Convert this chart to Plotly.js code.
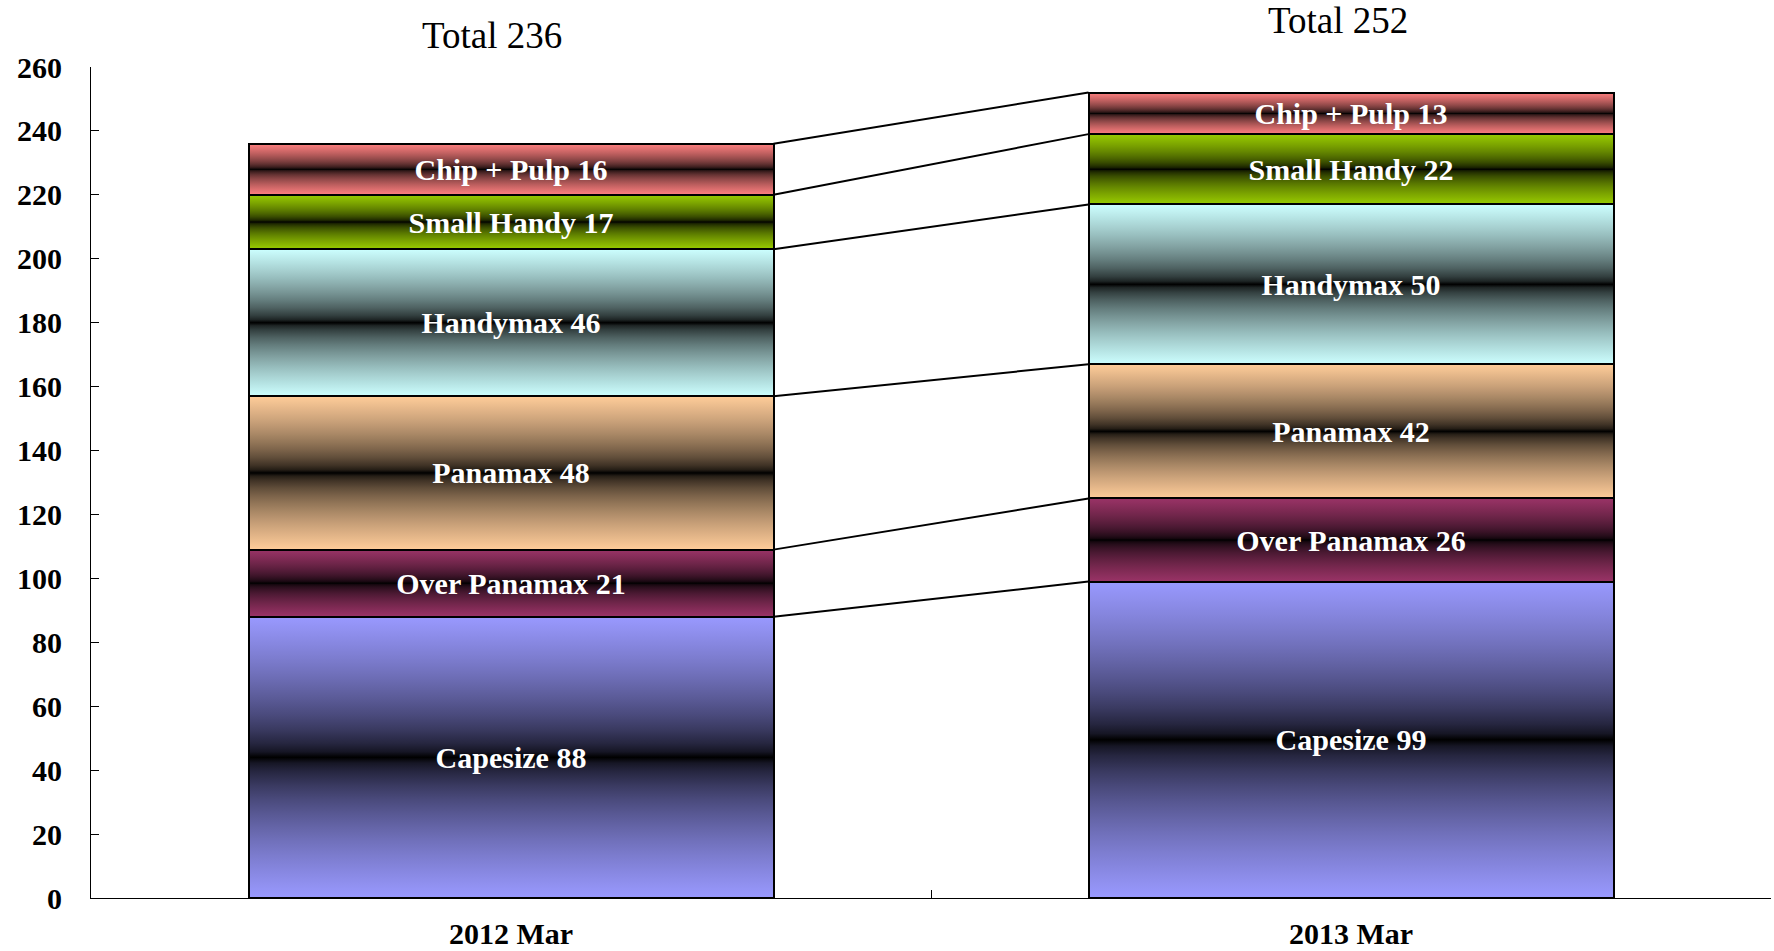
<!DOCTYPE html>
<html><head><meta charset="utf-8">
<script src="https://cdn.plot.ly/plotly-3.0.1.min.js"></script>
<style>html,body{margin:0;padding:0;background:#fff}#chart{width:1774px;height:951px}</style>
</head><body><div id="chart"></div>
<script>
// ---- data ----
const categories = ['2012 Mar', '2013 Mar'];
const seriesNames = ['Capesize', 'Over Panamax', 'Panamax', 'Handymax', 'Small Handy', 'Chip + Pulp'];
const capesize = [88, 99];
const overPanamax = [21, 26];
const panamax = [48, 42];
const handymax = [46, 50];
const smallHandy = [17, 22];
const chipPulp = [16, 13];
const yTickVals = [0, 20, 40, 60, 80, 100, 120, 140, 160, 180, 200, 220, 240, 260];

// ---- styles ----
const seriesValues = [capesize, overPanamax, panamax, handymax, smallHandy, chipPulp];
const seriesColors = [[153, 153, 255], [153, 51, 102], [255, 204, 153], [204, 255, 255], [153, 204, 0], [255, 128, 128]];
const BAR_W = 0.625;
const FONT = '"Liberation Serif", "Times New Roman", serif';
const rgb = c => 'rgb(' + c.join(',') + ')';

const traces = seriesNames.map((name, i) => ({
  type: 'bar',
  name: name,
  x: categories,
  y: seriesValues[i],
  width: BAR_W,
  text: seriesValues[i].map(v => name + ' ' + v),
  textposition: 'inside',
  insidetextanchor: 'middle',
  constraintext: 'none',
  textangle: 0,
  textfont: {family: FONT, size: 30, color: '#ffffff', weight: 'bold'},
  marker: {color: rgb(seriesColors[i]), line: {color: '#000000', width: 2}},
  hoverinfo: 'none',
  showlegend: false
}));

// cumulative tops for connector lines
const cum = categories.map((c, j) => {
  let s = 0;
  return seriesValues.map(arr => (s += arr[j]));
});
const shapes = seriesNames.map((n, i) => ({
  type: 'line', xref: 'x', yref: 'y',
  x0: 0 + BAR_W / 2, x1: 1 - BAR_W / 2,
  y0: cum[0][i], y1: cum[1][i],
  line: {color: '#000000', width: 2},
  layer: 'above'
}));

const totals = categories.map((c, j) => seriesValues.reduce((a, arr) => a + arr[j], 0));
const annotations = categories.map((c, j) => ({
  xref: 'x', yref: 'paper', x: j, y: 1,
  xshift: j === 0 ? -19 : -13,
  yshift: j === 0 ? 32 : 47,
  yanchor: 'middle', xanchor: 'center',
  text: 'Total ' + totals[j], showarrow: false,
  font: {family: FONT, size: 37, color: '#000000'}
}));

const layout = {
  width: 1774, height: 951,
  margin: {l: 91, r: 3, t: 67, b: 53},
  paper_bgcolor: '#ffffff', plot_bgcolor: '#ffffff',
  barmode: 'stack',
  showlegend: false,
  font: {family: FONT, color: '#000000'},
  xaxis: {
    type: 'category', range: [-0.5, 1.5],
    showline: true, linecolor: '#000000', linewidth: 1,
    ticks: 'inside', tickson: 'boundaries', ticklen: 8, tickcolor: '#000000', tickwidth: 1,
    showgrid: false, zeroline: false,
    tickfont: {family: FONT, size: 30, color: '#000000', weight: 'bold'},
    ticklabelstandoff: 9
  },
  yaxis: {
    range: [0, 260], tickvals: yTickVals,
    showline: true, linecolor: '#000000', linewidth: 1,
    ticks: 'inside', ticklen: 8, tickcolor: '#000000', tickwidth: 1,
    showgrid: false, zeroline: false,
    tickfont: {family: FONT, size: 30, color: '#000000', weight: 'bold'},
    ticklabelstandoff: 22
  },
  shapes: shapes,
  annotations: annotations
};

const gd = document.getElementById('chart');
Plotly.newPlot(gd, traces, layout, {staticPlot: true, displayModeBar: false}).then(() => {
  const NS = 'http://www.w3.org/2000/svg';
  const svg = gd.querySelector('svg.main-svg');
  let defs = svg.querySelector('defs');
  if (!defs) { defs = document.createElementNS(NS, 'defs'); svg.insertBefore(defs, svg.firstChild); }
  const offs = [0, 0.05, 0.1, 0.15, 0.2, 0.25, 0.3, 0.35, 0.4, 0.45, 0.48, 0.5, 0.52, 0.55, 0.6, 0.65, 0.7, 0.75, 0.8, 0.85, 0.9, 0.95, 1];
  seriesColors.forEach((col, i) => {
    const g = document.createElementNS(NS, 'linearGradient');
    g.setAttribute('id', 'barGrad' + i);
    g.setAttribute('x1', '0'); g.setAttribute('y1', '0');
    g.setAttribute('x2', '0'); g.setAttribute('y2', '1');
    offs.forEach(o => {
      const f = Math.pow(Math.abs(o - 0.5) * 2, 0.6);
      const s = document.createElementNS(NS, 'stop');
      s.setAttribute('offset', o);
      s.setAttribute('stop-color', rgb(col.map(v => Math.round(v * f))));
      g.appendChild(s);
    });
    defs.appendChild(g);
  });
  const groups = gd.querySelectorAll('.barlayer .trace.bars');
  groups.forEach((grp, i) => {
    grp.querySelectorAll('.point path').forEach(p => {
      p.style.fill = 'url(#barGrad' + i + ')';
    });
  });
});
</script>
</body></html>
